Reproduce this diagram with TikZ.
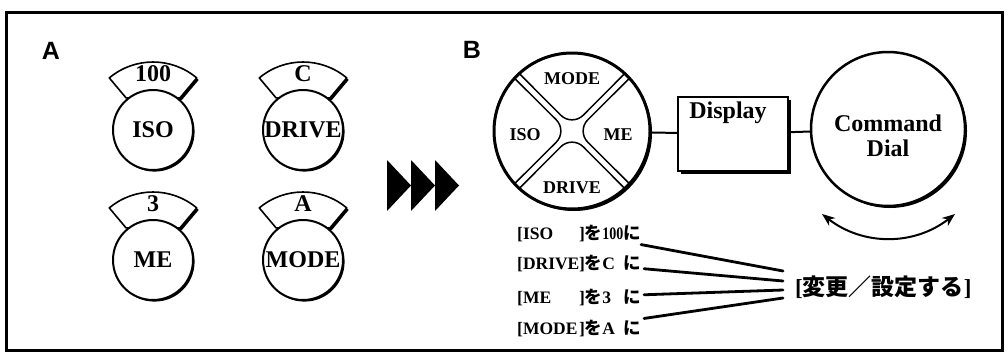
\documentclass[tikz,border=0pt]{standalone}
\usepackage{fontspec}
\setmainfont{Liberation Serif}
\newfontfamily\jpfont{Noto Sans CJK JP}
\newfontfamily\headfont{Liberation Sans}
\usepackage{tikz}
\usetikzlibrary{calc, arrows.meta}
\usetikzlibrary{positioning, shadows}

\tikzset{
    shd/.style={drop shadow={shadow xshift=#1, shadow yshift=-#1, opacity=1, fill=black}},
    shd/.default=1.6pt,
    knob/.style={circle, draw, fill=white, line width=2pt, minimum size=80pt, inner sep=0pt, shd},
    tab/.style={draw, fill=white, line width=1.6pt, line join=round, shd=2pt},
    tabtext/.style={inner sep=0pt},
    panel/.style={font=\headfont\bfseries\fontsize{25}{30}\selectfont},
    bigdial/.style={circle, draw, fill=white, line width=3pt, minimum size=156pt, inner sep=0pt, shd=2pt},
    sector/.style={line width=1.5pt, rounded corners=16pt},
    keyname/.style={font=\bfseries\fontsize{18}{20}\selectfont, inner sep=1pt},
    dispbox/.style={draw, fill=white, line width=2pt, minimum width=110pt, minimum height=74pt, shd=2.5pt},
    cmddial/.style={circle, draw, fill=white, line width=2.5pt, minimum size=154pt, inner sep=0pt, shd=2pt},
    row/.style={font=\bfseries\fontsize{17.5}{19}\selectfont, inner sep=3pt, anchor=west},
    target/.style={font=\bfseries\fontsize{23}{25}\selectfont, inner xsep=12pt, inner ysep=2pt, anchor=west},
    wire/.style={line width=2pt},
    lead/.style={line width=2.8pt, line cap=round},
    turn/.style={{Stealth[length=13pt, width=10pt]}-{Stealth[length=13pt, width=10pt]}, line width=2pt},
}

\NewDocumentCommand{\smalldial}{%
    m   % node name
    m   % centre
    m   % value on the tab
    m   % name of the setting
    }{%
    \path[tab] ($(#2)+(130:42)$) --($(#2)+(130:68)$)
        arc[start angle=130, end angle=50, radius=68pt] --($(#2)+(50:42)$) -- cycle;
    \node[tabtext] (#1tab) at ($(#2)+(90:56)$) {#3};
    \node[knob] (#1) at (#2) {#4};
}

\begin{document}
\begin{tikzpicture}[x=1pt, y=1pt, every node/.style={font=\bfseries\fontsize{24}{25}\selectfont}]
    \useasboundingbox (0,0) rectangle (1008,-354);
    \draw[line width=3pt] (6,-12) rectangle (1002,-350);

    % A: one dial for each setting
    \node[panel] (lblA) at (51,-51) {A};
    \smalldial{iso}{153,-130}{100}{ISO}
    \smalldial{drive}{303,-130}{C}{DRIVE}
    \smalldial{me}{153,-260}{3}{ME}
    \smalldial{mode}{303,-260}{A}{MODE}

    \foreach \i in {0,1,2}
        \fill (387+24*\i,-160) --(411+24*\i,-185.5) --(387+24*\i,-211) -- cycle;

    % B: selector, display and command dial
    \node[panel] (lblB) at (472,-50) {B};
    \node[bigdial] (dialB) at (572,-131) {};
    \foreach \a in {0,90,180,270}
        \draw[sector] ($(dialB)+(\a+42.5:77)$) --($(dialB)+(\a:4.5)$) --($(dialB)+(\a-42.5:77)$);
    \node[keyname] (bMode) at (572,-79) {MODE};
    \node[keyname] (bIso) at (525,-135) {ISO};
    \node[keyname] (bMe) at (618,-135) {ME};
    \node[keyname] (bDrive) at (572,-188) {DRIVE};

    \node[dispbox] (disp) at (733,-134) {};
    \node (dispTxt) at ($(disp.north)+(-5,-17)$) {Display};
    \node[cmddial] (cmd) at (888,-129) {};
    \node[align=center] (cmdTxt) at ($(cmd)+(0,-7)$) {Command\\Dial};
    \draw[wire] (dialB) --(disp);
    \draw[wire] (disp) --(cmd);

    \coordinate (arrL) at (822,-214);
    \coordinate (arrR) at (955,-214);
    \draw[turn] (arrL) to[bend right=38] (arrR);

    % list of settings
    \node[row] (rIso) at (514,-233) {[\makebox[56pt][l]{ISO}]{\jpfont を}\makebox[21pt][l]{\scalebox{0.8}[1]{100}}{\jpfont に}};
    \node[row] (rDrive) at (514,-263) {[\makebox[56pt][l]{DRIVE}]{\jpfont を}\makebox[21pt][l]{C}{\jpfont に}};
    \node[row] (rMe) at (514,-297) {[\makebox[56pt][l]{ME}]{\jpfont を}\makebox[21pt][l]{3}{\jpfont に}};
    \node[row] (rMode) at (514,-328) {[\makebox[56pt][l]{MODE}]{\jpfont を}\makebox[21pt][l]{A}{\jpfont に}};
    \node[target] (chg) at (783,-287) {[{\jpfont 変更／設定する}]};

    \draw[lead] (rIso) --([yshift=16pt]chg.west);
    \draw[lead] (rDrive) --([yshift=6pt]chg.west);
    \draw[lead] (rMe) --([yshift=-3pt]chg.west);
    \draw[lead] (rMode) --([yshift=-11pt]chg.west);
\end{tikzpicture}
\end{document}
